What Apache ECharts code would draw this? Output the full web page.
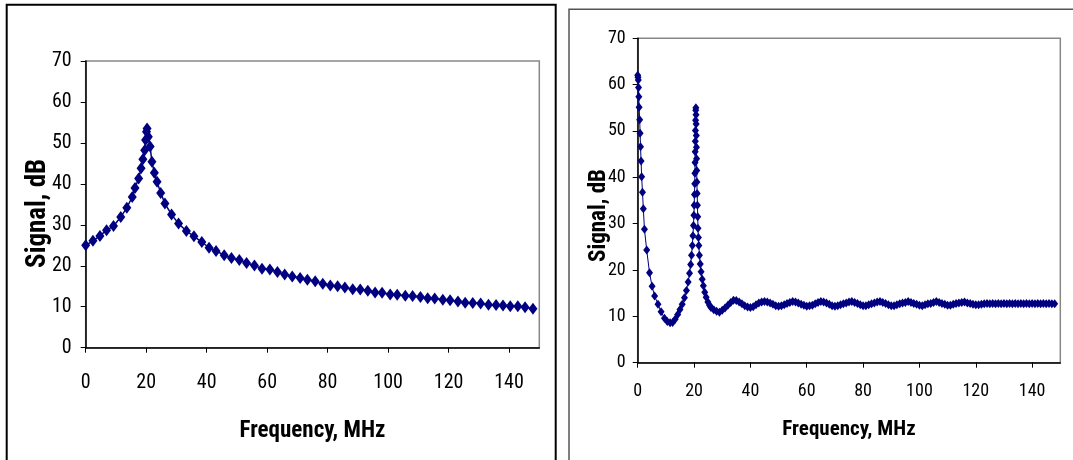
<!DOCTYPE html>
<html>
<head>
<meta charset="utf-8">
<script src="https://cdn.jsdelivr.net/npm/echarts@6/dist/echarts.min.js"></script>
<style>
html,body{margin:0;padding:0;background:#fff;}
#c{width:1073px;height:460px;}
</style>
</head>
<body>
<div id="c"></div>
<script>
// ---- Data ----
var freqA = [0,2.4,4.7,6.9,9.2,11.6,13.6,15.4,16.3,17.5,18.3,18.9,19.5,19.8,20.1,20.3,20.7,21.3,21.9,22.7,23.6,24.8,26.2,28.4,30.7,33.3,35.8,38.4,40.8,43.1,45.8,48.2,50.8,53.2,55.8,58.3,60.9,63.4,65.8,68.3,70.9,73.3,75.9,78.4,80.9,83.3,85.7,88.3,90.8,93.3,95.7,98.0,100.7,103.0,105.7,108.1,110.7,113.1,115.4,118.1,120.5,123.1,125.5,128.0,130.6,133.2,135.7,138.0,140.4,142.9,145.3,147.9];
var signalA = [25.0,26.1,27.3,28.7,29.7,31.9,34.2,36.8,39.0,41.3,43.8,46.0,48.2,50.7,52.7,53.5,51.5,49.1,45.4,42.7,40.5,37.8,35.2,32.5,30.3,28.5,27.2,25.8,24.4,23.6,22.6,21.9,21.4,20.7,20.1,19.3,19.1,18.5,17.9,17.4,17.0,16.6,16.2,15.6,15.2,15.0,14.7,14.3,14.2,13.9,13.5,13.4,13.0,12.9,12.7,12.6,12.4,12.1,12.0,11.7,11.6,11.3,11.0,10.9,10.8,10.5,10.4,10.3,10.1,10.1,9.9,9.5];

var freqB = [0,0.1,0.2,0.3,0.4,0.5,0.7,0.85,1.0,1.2,1.4,1.7,2.0,2.4,3.2,4.2,5.1,6.0,7.2,8.3,9.5,10.5,11.5,12.4,13.3,14.2,15.0,15.8,16.6,17.3,17.9,18.4,18.8,19.1,19.4,19.6,19.8,19.95,20.05,20.15,20.25,20.3,20.35,20.4,20.45,20.5,20.55,20.6,20.65,20.7,20.75,20.8,20.85,20.9,20.95,21.0,21.1,21.2,21.3,21.4,21.55,21.7,21.9,22.2,22.5,22.9,23.3,23.8,24.3,24.9,25.5,26,27,28,29,30,31,32,33,34,35,36,37,38,39,40,41,42,43,44,45,46,47,48,49,50,51,52,53,54,55,56,57,58,59,60,61,62,63,64,65,66,67,68,69,70,71,72,73,74,75,76,77,78,79,80,81,82,83,84,85,86,87,88,89,90,91,92,93,94,95,96,97,98,99,100,101,102,103,104,105,106,107,108,109,110,111,112,113,114,115,116,117,118,119,120,121,122,123,124,125,126,127,128,129,130,131,132,133,134,135,136,137,138,139,140,141,142,143,144,145,146,147,148,149,150];
var signalB = [62.0,61.6,61.0,59.4,57.4,55.1,52.4,49.5,46.6,43.5,40.1,36.8,33.2,28.8,24.3,19.4,16.5,14.4,12.6,11.0,9.6,8.9,8.6,8.7,9.4,10.4,11.5,12.6,14.0,15.6,17.4,19.3,21.2,23.2,25.3,27.4,29.6,31.8,34.0,36.3,38.6,40.9,43.2,45.5,47.8,50.1,52.3,54.5,55.0,53.5,51.5,49.0,46.5,44.0,41.5,39.0,36.5,34.0,31.5,29.0,27.0,25.3,23.2,21.3,19.6,18.0,16.6,15.2,14.1,13.1,12.4,11.9,11.4,11.1,10.9,11.3,11.8,12.4,13.0,13.5,13.4,13.1,12.7,12.3,12.0,11.9,12.1,12.5,12.9,13.1,13.2,13.1,12.9,12.6,12.3,12.2,12.3,12.5,12.8,13.0,13.2,13.1,12.9,12.6,12.4,12.2,12.3,12.4,12.7,13.0,13.2,13.1,12.9,12.6,12.3,12.2,12.3,12.5,12.7,12.9,13.1,13.2,13.0,12.8,12.5,12.3,12.3,12.5,12.7,12.9,13.1,13.2,13.0,12.8,12.5,12.3,12.3,12.5,12.7,12.9,13.0,13.2,13.0,12.8,12.6,12.4,12.3,12.5,12.7,12.8,13.0,13.2,13.0,12.8,12.6,12.4,12.4,12.6,12.8,12.9,13.0,13.1,12.9,12.8,12.6,12.5,12.5,12.6,12.7,12.8,12.7,12.8,12.7,12.8,12.7,12.8,12.7,12.8,12.7,12.8,12.7,12.8,12.7,12.8,12.7,12.8,12.7,12.8,12.7,12.8,12.7,12.8,12.7,12.7];

var xTicks = [0,20,40,60,80,100,120,140];
var yTicks = [0,10,20,30,40,50,60,70];
var xTitle = 'Frequency, MHz';
var yTitle = 'Signal, dB';

function pairs(xs, ys){ return xs.map(function(x,i){ return [x, ys[i]]; }); }

var FONT = "Roboto, 'Liberation Sans', sans-serif";
var NAVY = '#000080';

function xAxisCfg(gi, fs, lm, ng, nfs){
  return {
    type:'value', gridIndex:gi, min:0, max:150, interval:20,
    name:xTitle, nameLocation:'middle', nameGap:ng,
    nameTextStyle:{fontFamily:FONT, fontWeight:'bold condensed', fontSize:nfs, color:'#000'},
    axisLine:{show:true, onZero:false, lineStyle:{color:'#000', width:1.5}},
    axisTick:{show:true, inside:false, length:5, customValues:xTicks, lineStyle:{color:'#000', width:1}},
    axisLabel:{show:true, customValues:xTicks, margin:lm, fontFamily:FONT, fontWeight:'condensed', fontSize:fs, color:'#000'},
    splitLine:{show:false}
  };
}
function yAxisCfg(gi, fs, lm, ng, nfs, pad){
  return {
    type:'value', gridIndex:gi, min:0, max:70, interval:10,
    name:yTitle, nameLocation:'middle', nameGap:ng, nameRotate:90, nameMoveOverlap:false,
    nameTextStyle:{fontFamily:FONT, fontWeight:'bold condensed', fontSize:nfs, color:'#000', padding:pad},
    axisLine:{show:true, onZero:false, lineStyle:{color:'#000', width:1.5}},
    axisTick:{show:true, inside:false, length:5, customValues:yTicks, lineStyle:{color:'#000', width:1}},
    axisLabel:{show:true, customValues:yTicks, margin:lm, fontFamily:FONT, fontWeight:'condensed', fontSize:fs, color:'#000'},
    splitLine:{show:false}
  };
}

var chart = echarts.init(document.getElementById('c'), null, {renderer:'canvas'});
chart.setOption({
  animation:false,
  backgroundColor:'#fff',
  grid:[
    {left:85.7, right:1073-539.3, top:61, bottom:460-347.7, show:true, borderColor:'#888', borderWidth:1.5, backgroundColor:'transparent'},
    {left:637.7, right:1073-1060.3, top:38.3, bottom:460-362.7, show:true, borderColor:'#888', borderWidth:1.5, backgroundColor:'transparent'}
  ],
  xAxis:[ xAxisCfg(0, 20, 25, 72, 23), xAxisCfg(1, 18, 20, 57, 21) ],
  yAxis:[ yAxisCfg(0, 20, 14, 34, 27, [0,18,0,0]), yAxisCfg(1, 18, 12, 27, 23, [0,30,0,0]) ],
  graphic:[
    {type:'rect', shape:{x:6.7, y:4.8, width:549, height:480}, style:{fill:null, stroke:'#000', lineWidth:2}, silent:true},
    {type:'rect', shape:{x:569, y:9.3, width:520, height:480}, style:{fill:null, stroke:'#555', lineWidth:1.5}, silent:true}
  ],
  series:[
    {type:'line', xAxisIndex:0, yAxisIndex:0, data:pairs(freqA, signalA),
     symbol:'diamond', symbolSize:[9,12], showSymbol:true,
     itemStyle:{color:NAVY}, lineStyle:{color:NAVY, width:1.5}, silent:true},
    {type:'line', xAxisIndex:1, yAxisIndex:1, data:pairs(freqB, signalB),
     symbol:'diamond', symbolSize:[7,9], showSymbol:true,
     itemStyle:{color:NAVY}, lineStyle:{color:NAVY, width:1}, silent:true}
  ]
});
</script>
</body>
</html>
